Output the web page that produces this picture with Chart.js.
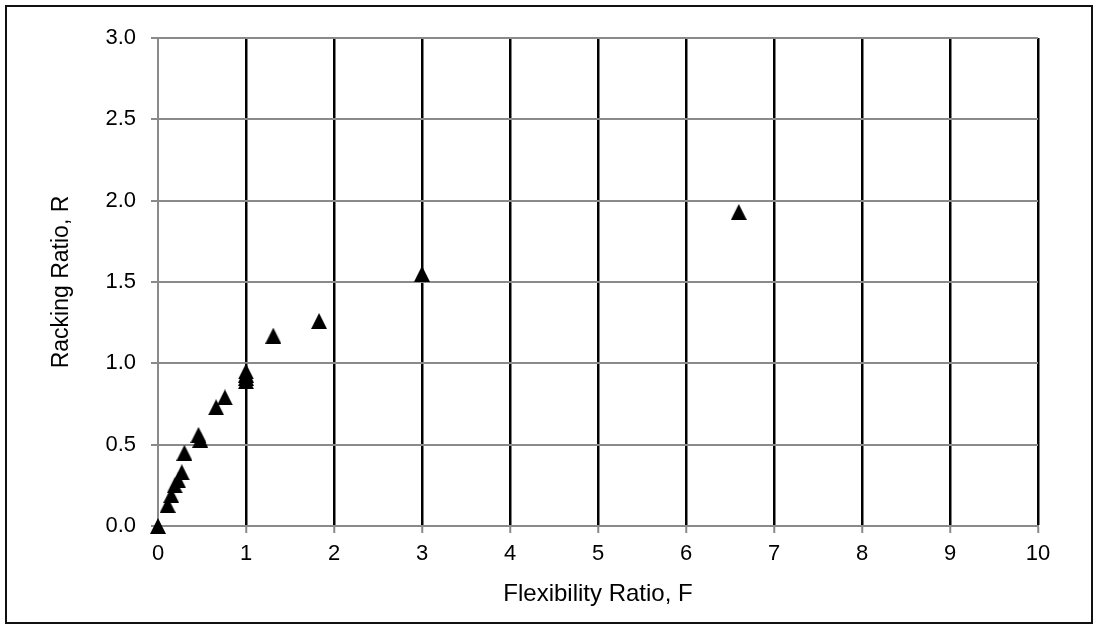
<!DOCTYPE html>
<html>
<head>
<meta charset="utf-8">
<script src="https://cdn.jsdelivr.net/npm/chart.js@4/dist/chart.umd.min.js"></script>
<style>
  html, body { margin: 0; padding: 0; background: #fff; }
  #wrap { width: 1094px; height: 624px; position: relative; }
</style>
</head>
<body>
<div id="wrap"><canvas id="c" width="1094" height="624"></canvas></div>
<script>
// Data
const flexibilityRatio = [0, 0.11, 0.15, 0.19, 0.23, 0.27, 0.30, 0.46, 0.48, 0.66, 0.76, 1.0, 1.0, 1.0, 1.0, 1.31, 1.83, 3.0, 6.6];
const rackingRatio     = [0, 0.13, 0.19, 0.25, 0.28, 0.33, 0.45, 0.56, 0.53, 0.73, 0.79, 0.95, 0.93, 0.91, 0.89, 1.17, 1.26, 1.55, 1.93];
const xTickValues = [0, 1, 2, 3, 4, 5, 6, 7, 8, 9, 10];
const yTickValues = [0.0, 0.5, 1.0, 1.5, 2.0, 2.5, 3.0];
const xTitle = 'Flexibility Ratio, F';
const yTitle = 'Racking Ratio, R';

const points = flexibilityRatio.map((f, i) => ({ x: f, y: rackingRatio[i] }));

// triangle marker
const tri = document.createElement('canvas');
tri.width = 16; tri.height = 16;
(function () {
  const t = tri.getContext('2d');
  t.fillStyle = '#000';
  t.beginPath();
  t.moveTo(8, 0);
  t.lineTo(16, 16);
  t.lineTo(0, 16);
  t.closePath();
  t.fill();
})();

const frame = {
  id: 'frame',
  afterDraw(chart) {
    const ctx = chart.ctx;
    ctx.save();
    ctx.strokeStyle = '#111';
    ctx.lineWidth = 2;
    ctx.strokeRect(6, 6, 1086, 617);
    ctx.restore();
  }
};

const GRAY = '#8a8a8a';
const FONT = 'Liberation Sans, Arial, sans-serif';

new Chart(document.getElementById('c'), {
  type: 'scatter',
  data: {
    datasets: [{
      data: points,
      pointStyle: tri,
      pointRadius: 8,
      pointHoverRadius: 8,
      backgroundColor: '#000',
      borderColor: '#000',
      showLine: false,
      clip: false
    }]
  },
  options: {
    responsive: false,
    animation: false,
    events: [],
    layout: { padding: { left: 0, right: 56, top: 38, bottom: 0 } },
    plugins: { legend: { display: false }, tooltip: { enabled: false } },
    scales: {
      x: {
        type: 'linear',
        min: 0, max: 10,
        afterBuildTicks: (s) => { s.ticks = xTickValues.map(v => ({ value: v })); },
        afterFit: (s) => { s.height = 98; },
        ticks: {
          color: '#000',
          font: { family: FONT, size: 22 },
          padding: 8,
          maxRotation: 0,
          callback: (v) => String(v)
        },
        grid: {
          color: (c) => (c.tick && c.tick.value === 0) ? GRAY : '#000',
          lineWidth: (c) => (c.tick && c.tick.value === 0) ? 2 : 2.5,
          tickColor: GRAY,
          tickWidth: 2,
          tickLength: 7,
          drawTicks: true
        },
        border: { color: GRAY, width: 2 },
        title: {
          display: true,
          text: xTitle,
          color: '#000',
          font: { family: FONT, size: 24 },
          padding: { top: 0, bottom: 15 }
        }
      },
      y: {
        type: 'linear',
        min: 0, max: 3,
        afterBuildTicks: (s) => { s.ticks = yTickValues.map(v => ({ value: v })); },
        afterFit: (s) => { s.width = 158; },
        ticks: {
          color: '#000',
          font: { family: FONT, size: 22 },
          padding: 15,
          callback: (v) => Number(v).toFixed(1)
        },
        grid: {
          color: GRAY,
          lineWidth: 2,
          tickColor: GRAY,
          tickWidth: 2,
          tickLength: 7
        },
        border: { color: GRAY, width: 2 },
        title: {
          display: true,
          text: yTitle,
          color: '#000',
          font: { family: FONT, size: 23 },
          padding: { top: 48, bottom: 0 }
        }
      }
    }
  },
  plugins: [frame]
});
</script>
</body>
</html>
